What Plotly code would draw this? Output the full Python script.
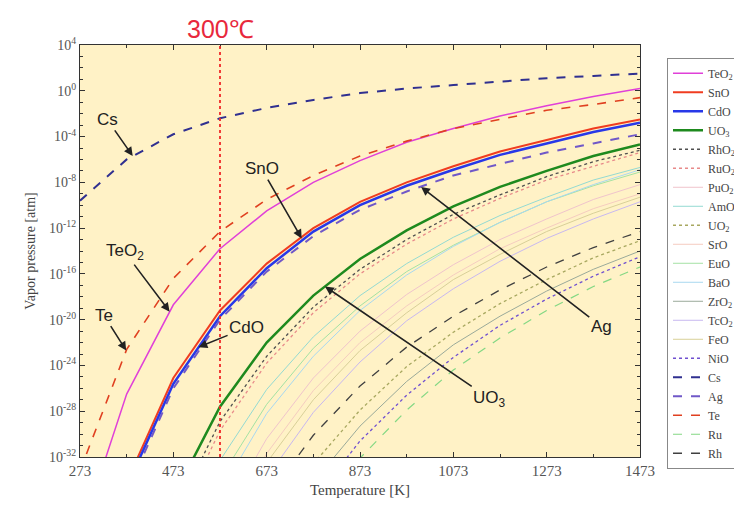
import plotly.graph_objects as go

# Temperatures [K]
T = [273, 373, 473, 573, 673, 773, 873, 973, 1073, 1173, 1273, 1373, 1473]

# log10(vapor pressure [atm]) (None = no data)
TeO2 = [-38.9, -26.5, -18.7, -13.8, -10.5, -8.0, -6.1, -4.5, -3.3, -2.2, -1.3, -0.5, 0.2]
SnO  = [-49.4, -34.2, -25.1, -19.2, -15.1, -12.0, -9.7, -8.0, -6.6, -5.3, -4.3, -3.3, -2.5]
CdO  = [-50.4, -34.6, -25.6, -19.7, -15.5, -12.3, -10.0, -8.3, -6.9, -5.6, -4.6, -3.6, -2.8]
UO3  = [None, -47.7, -35.5, -27.6, -22.0, -17.9, -14.7, -12.2, -10.1, -8.4, -7.0, -5.7, -4.7]
RhO2 = [None, -49.8, -37.2, -28.9, -23.2, -18.9, -15.6, -13.0, -10.8, -9.1, -7.5, -6.2, -5.2]
RuO2 = [None, -50.9, -38.1, -29.7, -23.8, -19.4, -16.0, -13.4, -11.2, -9.4, -7.8, -6.6, -5.4]
PuO2 = [None, None, None, -37.5, -30.4, -25.1, -21.0, -17.8, -15.2, -13.0, -11.2, -9.5, -8.2]
AmO2 = [None, None, -41.2, -32.3, -26.1, -21.5, -17.9, -15.1, -12.8, -10.9, -9.3, -7.8, -6.7]
UO2  = [None, None, None, None, -38.7, -32.6, -27.9, -24.1, -21.1, -18.6, -16.5, -14.6, -13.1]
SrO  = [None, None, None, -38.9, -31.7, -26.2, -22.0, -18.8, -16.1, -13.8, -12.0, -10.3, -9.0]
EuO  = [None, None, -43.1, -33.9, -27.4, -22.5, -18.8, -15.8, -13.5, -11.5, -9.7, -8.3, -7.1]
BaO  = [None, None, -45.0, -35.1, -28.2, -23.2, -19.2, -16.1, -13.6, -11.5, -9.7, -8.2, -6.9]
ZrO2 = [None, None, None, None, None, -34.2, -29.3, -25.4, -22.2, -19.7, -17.5, -15.6, -14.0]
TcO2 = [None, None, None, -41.5, -33.8, -28.1, -23.7, -20.1, -17.3, -14.9, -12.9, -11.2, -9.7]
FeO  = [None, None, None, -40.0, -32.5, -27.0, -22.7, -19.4, -16.5, -14.3, -12.3, -10.7, -9.3]
NiO  = [None, None, None, None, None, -35.8, -30.6, -26.6, -23.3, -20.5, -18.2, -16.2, -14.5]
Cs   = [-9.6, -6.0, -3.8, -2.4, -1.5, -0.8, -0.2, 0.2, 0.5, 0.8, 1.1, 1.3, 1.5]
Ag   = [-51.3, -35.1, -26.0, -20.0, -15.8, -12.7, -10.4, -8.8, -7.4, -6.4, -5.4, -4.6, -3.8]
Te   = [-33.2, -22.6, -16.4, -12.3, -9.5, -7.4, -5.7, -4.4, -3.3, -2.5, -1.7, -1.2, -0.6]
Ru   = [None, None, None, None, None, -37.3, -32.1, -27.9, -24.4, -21.6, -19.2, -17.1, -15.4]
Rh   = [None, None, None, None, -35.6, -30.1, -25.8, -22.4, -19.7, -17.4, -15.4, -13.7, -12.3]

names = ["TeO<sub>2</sub>", "SnO", "CdO", "UO<sub>3</sub>", "RhO<sub>2</sub>", "RuO<sub>2</sub>",
         "PuO<sub>2</sub>", "AmO<sub>2</sub>", "UO<sub>2</sub>", "SrO", "EuO", "BaO",
         "ZrO<sub>2</sub>", "TcO<sub>2</sub>", "FeO", "NiO", "Cs", "Ag", "Te", "Ru", "Rh"]
series = [TeO2, SnO, CdO, UO3, RhO2, RuO2, PuO2, AmO2, UO2, SrO, EuO, BaO,
          ZrO2, TcO2, FeO, NiO, Cs, Ag, Te, Ru, Rh]

# styles: (color, dash, width)
styles = [
    ("#E040D8", "solid", 1.5),
    ("#F03C20", "solid", 2.0),
    ("#2838E8", "solid", 2.5),
    ("#1E8A1E", "solid", 2.5),
    ("#505050", "dot", 1.3),
    ("#E88A8A", "dot", 1.3),
    ("#F0C4CC", "solid", 1.0),
    ("#94DAD2", "solid", 1.0),
    ("#A8A860", "dot", 1.3),
    ("#F5CCC0", "solid", 1.0),
    ("#A4E2A4", "solid", 1.0),
    ("#A8D8F0", "solid", 1.0),
    ("#9AAA9A", "solid", 1.0),
    ("#C8B8F0", "solid", 1.0),
    ("#D8D098", "solid", 1.0),
    ("#7050D0", "dot", 1.3),
    ("#303090", "dash", 2.0),
    ("#7058C8", "dash", 2.0),
    ("#E04020", "dash", 1.6),
    ("#84D884", "dash", 1.2),
    ("#404040", "dash", 1.3),
]

T_300C = 573  # 300 degC in K

fig = go.Figure()
for name, vals, (col, dash, w) in zip(names, series, styles):
    yv = [10 ** v if v is not None else None for v in vals]
    fig.add_trace(go.Scatter(x=T, y=yv, mode="lines", name=name,
                             line=dict(color=col, dash=dash, width=w)))

# 300 degC marker line
fig.add_shape(type="line", xref="x", yref="paper", x0=T_300C, x1=T_300C, y0=0, y1=1,
              line=dict(color="#F02828", dash="dot", width=1.8))
fig.add_annotation(x=T_300C, xref="x", y=1.0, yref="paper", yanchor="bottom",
                   text="300℃", showarrow=False, yshift=0,
                   font=dict(family="Liberation Sans, Arial", size=25, color="#E8283C"))

labels = [
    # text, text T, text log p, head T, head log p
    ("Cs", 331, -2.5, 386, -5.7),
    ("TeO<sub>2</sub>", 369, -14.1, 465, -19.3),
    ("Te", 324, -19.6, 372, -22.7),
    ("SnO", 662, -6.8, 748, -12.9),
    ("CdO", 630, -20.7, 527, -22.4),
    ("Ag", 1390, -20.6, 1004, -8.4),
    ("UO<sub>3</sub>", 1151, -26.9, 798, -17.1),
]
for txt, tx, ty, hx, hy in labels:
    fig.add_annotation(x=hx, y=hy, ax=tx, ay=ty, xref="x", yref="y", axref="x", ayref="y",
                       text=txt, showarrow=True, arrowhead=2, arrowsize=1.1, arrowwidth=1.6,
                       arrowcolor="#222222",
                       font=dict(family="Liberation Sans, Arial", size=17, color="#222222"))

serif = "Liberation Serif, Times New Roman, serif"
xticks = [273, 473, 673, 873, 1073, 1273, 1473]
xminor = [373, 573, 773, 973, 1173, 1373]
yexp = [4, 0, -4, -8, -12, -16, -20, -24, -28, -32]

fig.update_xaxes(range=[273, 1473], tickmode="array", tickvals=xticks,
                 ticktext=[str(v) for v in xticks],
                 ticks="inside", ticklen=5, tickcolor="#333", showline=True, linecolor="#333",
                 linewidth=1.2, mirror="ticks", showgrid=False, zeroline=False,
                 minor=dict(tickmode="array", tickvals=xminor, ticks="inside", ticklen=3,
                            tickcolor="#333"),
                 tickfont=dict(family=serif, size=15, color="#555"),
                 title=dict(text="Temperature [K]", font=dict(family=serif, size=15, color="#444"),
                            standoff=6))
fig.update_yaxes(type="log", range=[-32, 4], tickmode="array",
                 tickvals=[10 ** e for e in yexp],
                 ticktext=["10<sup>%d</sup>" % e for e in yexp],
                 ticks="inside", ticklen=5, tickcolor="#333", showline=True, linecolor="#333",
                 linewidth=1.2, mirror="ticks", showgrid=False, zeroline=False,
                 minor=dict(tickmode="array", tickvals=[10 ** e for e in range(-32, 5)],
                            ticks="inside", ticklen=3, tickcolor="#333"),
                 tickfont=dict(family=serif, size=14, color="#555"),
                 title=dict(text="Vapor pressure [atm]", font=dict(family=serif, size=14, color="#444"),
                            standoff=10))

fig.update_layout(
    width=734, height=508,
    margin=dict(l=80, r=71, t=45, b=48),
    plot_bgcolor="#FFF2C6",
    paper_bgcolor="white",
    legend=dict(xref="container", yref="paper", x=667 / 734, y=0.969,
                xanchor="left", yanchor="top", bgcolor="white", bordercolor="#888",
                borderwidth=1, tracegroupgap=0, itemwidth=30,
                font=dict(family=serif, size=12, color="#444")),
)

fig.write_html("out.html")
